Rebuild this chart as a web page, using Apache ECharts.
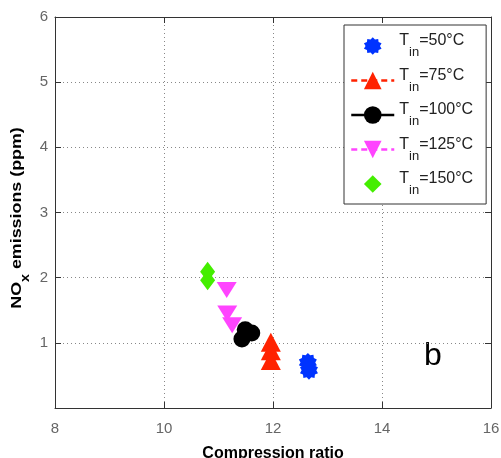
<!DOCTYPE html>
<html><head><meta charset="utf-8">
<script src="https://cdn.jsdelivr.net/npm/echarts@6/dist/echarts.min.js"></script>
<style>html,body{margin:0;padding:0;background:#fff}#c{width:501px;height:458px}</style>
</head><body><div id="c"></div>
<script>
// ---- data ----
const xTicks = [8, 10, 12, 14, 16];
const yTicks = [1, 2, 3, 4, 5, 6];
const seriesNames = ['T50', 'T75', 'T100', 'T125', 'T150'];
const seriesTemps = ['50', '75', '100', '125', '150'];
const t50 = [[12.64, 0.70], [12.66, 0.58]];
const t75 = [[11.96, 1.01], [11.96, 0.88], [11.96, 0.73]];
const t100 = [[11.43, 1.06], [11.49, 1.20], [11.61, 1.15]];
const t125 = [[11.15, 1.81], [11.16, 1.45], [11.25, 1.27]];
const t150 = [[10.80, 2.09], [10.80, 1.96]];
const xTitle = 'Compression ratio';
const panelLabel = 'b';

// ---- styling ----
const FONT = '"Liberation Sans", Arial, sans-serif';
function starPath(n, rIn) {
  let d = '';
  for (let i = 0; i < 2 * n; i++) {
    const r = i % 2 === 0 ? 1 : rIn;
    const a = Math.PI * i / n - Math.PI / 2;
    d += (i === 0 ? 'M' : 'L') + (50 + 50 * r * Math.cos(a)).toFixed(2) + ' ' + (50 + 50 * r * Math.sin(a)).toFixed(2) + ' ';
  }
  return 'path://' + d + 'Z';
}
const STAR = starPath(10, 0.78);

const colors = ['#0033ff', '#ff2200', '#000000', '#ff44ff', '#44ee00'];
const symbols = [STAR, 'triangle', 'circle', 'triangle', 'diamond'];
const sizes = [[18, 19], [20, 19], 17, [20, 16], [15, 20]];
const rotates = [0, 0, 0, 180, 0];
const datas = [t50, t75, t100, t125, t150];
const legendLines = [
  {width: 0, opacity: 0},
  {width: 2.5, type: [6, 4], color: '#ff2200', opacity: 1},
  {width: 2.5, type: 'solid', color: '#000', opacity: 1},
  {width: 2.5, type: [6, 4], color: '#ff44ff', opacity: 1},
  {width: 0, opacity: 0}
];

const series = seriesNames.map((n, i) => ({
  type: 'line', name: n, data: datas[i],
  symbol: symbols[i], symbolSize: sizes[i], symbolRotate: rotates[i],
  showSymbol: true, showAllSymbol: true, silent: true,
  itemStyle: {color: colors[i], borderWidth: 0},
  lineStyle: {width: 0, opacity: 0},
  emphasis: {disabled: true},
  animation: false
}));

const axisCommon = {
  type: 'value',
  axisLine: {show: true, onZero: false, lineStyle: {color: '#333', width: 1}},
  axisTick: {show: true, inside: true, length: 6, lineStyle: {color: '#333'}},
};

const chart = echarts.init(document.getElementById('c'), null, {renderer: 'canvas'});
chart.setOption({
  animation: false,
  grid: {left: 55, right: 10, top: 17, bottom: 50, containLabel: false, outerBoundsMode: 'none'},
  xAxis: [
    Object.assign({}, axisCommon, {
      min: xTicks[0], max: xTicks[xTicks.length - 1], interval: xTicks[1] - xTicks[0], position: 'bottom',
      axisLabel: {color: '#666', fontSize: 15, fontFamily: FONT, margin: 13},
      splitLine: {show: true, showMinLine: false, showMaxLine: false, lineStyle: {type: [1, 3], color: '#888', width: 1}},
      name: xTitle, nameLocation: 'middle', nameGap: 38,
      nameTextStyle: {color: '#000', fontSize: 16, fontWeight: 'bold', fontFamily: FONT}
    }),
    Object.assign({}, axisCommon, {
      min: xTicks[0], max: xTicks[xTicks.length - 1], interval: xTicks[1] - xTicks[0], position: 'top',
      axisLabel: {show: false}, splitLine: {show: false}
    })
  ],
  yAxis: [
    Object.assign({}, axisCommon, {
      min: 0, max: yTicks[yTicks.length - 1], interval: 1, position: 'left',
      axisLabel: {color: '#666', fontSize: 15, fontFamily: FONT, margin: 7,
        formatter: v => (yTicks.indexOf(v) >= 0 ? String(v) : '')},
      splitLine: {show: true, showMinLine: false, showMaxLine: false, lineStyle: {type: [1, 3], color: '#888', width: 1}}
    }),
    Object.assign({}, axisCommon, {
      min: 0, max: yTicks[yTicks.length - 1], interval: 1, position: 'right',
      axisLabel: {show: false}, splitLine: {show: false}
    })
  ],
  legend: {
    orient: 'vertical', left: 344, top: 25,
    padding: [8, 13, 7, 6],
    itemWidth: 43, itemHeight: 22, itemGap: 8.5,
    borderColor: '#333', borderWidth: 1, borderRadius: 0,
    backgroundColor: '#fff',
    selectedMode: false,
    data: seriesNames.map((n, i) => ({name: n, lineStyle: legendLines[i], itemStyle: {color: colors[i]}})),
    formatter: n => '{t|T}{s|in}{t|=' + seriesTemps[seriesNames.indexOf(n)] + '°C}',
    textStyle: {
      color: '#222', fontFamily: FONT,
      rich: {
        t: {fontSize: 16, lineHeight: 16, verticalAlign: 'top', fontFamily: FONT, color: '#222'},
        s: {fontSize: 13, lineHeight: 26, verticalAlign: 'bottom', fontFamily: FONT, color: '#222'}
      }
    }
  },
  graphic: [
    {
      type: 'text', x: 20.5, y: 218, rotation: Math.PI / 2, scaleX: 1.19,
      style: {
        text: '{a|NO}{b|x}{a| emissions (ppm)}',
        align: 'center', verticalAlign: 'middle',
        rich: {
          a: {fontSize: 15, fontWeight: 'bold', fontFamily: FONT, fill: '#000', lineHeight: 15, verticalAlign: 'top'},
          b: {fontSize: 12, fontWeight: 'bold', fontFamily: FONT, fill: '#000', lineHeight: 22, verticalAlign: 'bottom'}
        }
      }
    },
    {
      type: 'text', x: 433, y: 356,
      style: {text: panelLabel, font: '32px ' + FONT, fill: '#000', align: 'center', verticalAlign: 'middle'}
    }
  ],
  series: series
});
</script>
</body></html>
